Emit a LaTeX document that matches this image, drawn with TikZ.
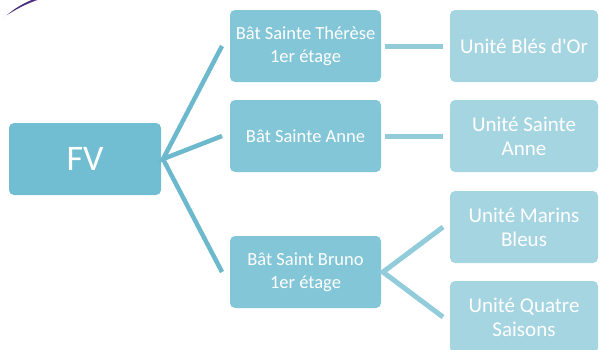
\documentclass[tikz,border=0pt]{standalone}
\usepackage{fontspec}
\setmainfont{Carlito}
\definecolor{rootfill}{HTML}{71BDD1}
\definecolor{midfill}{HTML}{83C6D7}
\definecolor{leaffill}{HTML}{A6D5E2}
\definecolor{rootline}{HTML}{6CB8CD}
\definecolor{leafline}{HTML}{92CCDB}
\definecolor{swoosh}{HTML}{4A2C7E}
\definecolor{swooshhalo}{HTML}{E6DDF2}
\begin{document}
\begin{tikzpicture}[x=1pt,y=-1pt,
  box/.style={rounded corners=5pt, draw=none, text=white, align=center, inner sep=0pt},
  rootbox/.style={box, fill=rootfill, minimum width=152pt, minimum height=72pt, font=\fontsize{36}{40}\selectfont},
  midbox/.style={box, fill=midfill, minimum width=151pt, minimum height=72pt, font=\fontsize{18.5}{23}\selectfont},
  leafbox/.style={box, fill=leaffill, minimum width=148pt, minimum height=72pt, font=\fontsize{21}{24}\selectfont},
  rootlink/.style={draw=rootline, line width=4.5pt},
  leaflink/.style={draw=leafline, line width=5pt}]
\useasboundingbox (0,0) rectangle (599,349);
\begin{scope}
\clip (0,0) rectangle (599,349);

% decorative stroke in the corner
\fill[swooshhalo] (4,17) .. controls (18,8) and (30,2) .. (46,-2) -- (40,-2) .. controls (26,3) and (14,9) .. (4,17) -- cycle;
\fill[swoosh] (7,15) .. controls (18,8) and (28,3) .. (40,-1) -- (34,-1) .. controls (24,3) and (15,8) .. (7,15) -- cycle;

% boxes
\node[rootbox] (fv) at (85,159) {FV};
\node[midbox] (th) at (305.5,46) {Bât Sainte Thérèse\\1er étage};
\node[midbox] (an) at (305.5,136) {Bât Sainte Anne};
\node[midbox] (br) at (305.5,272) {Bât Saint Bruno\\1er étage};
\node[leafbox] (bo) at (524,46) {Unité Blés d\textquotesingle Or};
\node[leafbox] (sa) at (524,136) {Unité Sainte\\Anne};
\node[leafbox] (mb) at (524,227) {Unité Marins\\Bleus};
\node[leafbox] (qs) at (524,317) {Unité Quatre\\Saisons};

% branch anchor points
\coordinate (fvj) at (163,159);
\coordinate (thj) at (222,46);
\coordinate (anj) at (222,136);
\coordinate (brj) at (222,272);
\coordinate (brs) at (383,272);
\coordinate (mbj) at (443,227);
\coordinate (qsj) at (443,317);

% first level connectors
\draw[rootlink] (thj) -- (fvj) -- (anj);
\draw[rootlink] (fvj) -- (brj);

% second level connectors
\draw[leaflink] (th.east) ++(4,0) -- ([xshift=-7pt]bo.west);
\draw[leaflink] (an.east) ++(4,0) -- ([xshift=-7pt]sa.west);
\draw[leaflink] (mbj) -- (brs) -- (qsj);
\end{scope}
\end{tikzpicture}
\end{document}
